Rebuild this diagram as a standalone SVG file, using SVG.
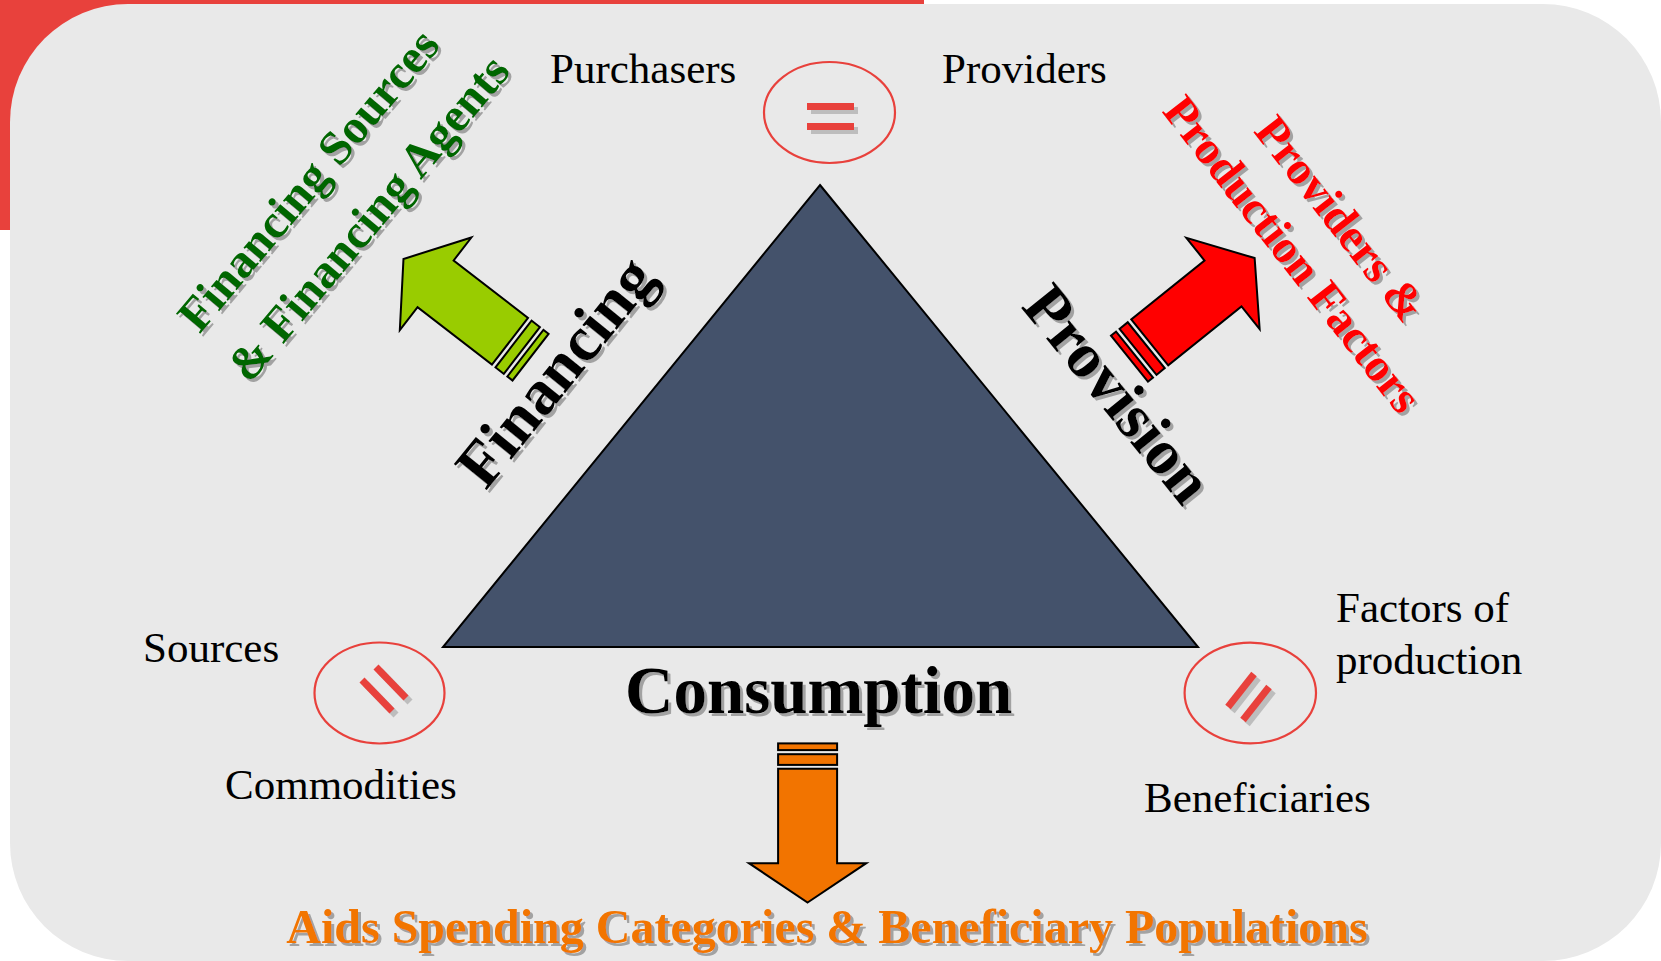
<svg xmlns="http://www.w3.org/2000/svg" width="1661" height="961" viewBox="0 0 1661 961">
<defs>
<style>
.lbl{font-family:"Liberation Serif","Times New Roman",serif;font-size:43px;fill:#000}
.big{font-family:"Liberation Serif","Times New Roman",serif;font-weight:bold;fill:#000}
.side{font-family:"Liberation Serif","Times New Roman",serif;font-weight:bold}
.ring{fill:none;stroke:#E8413C;stroke-width:2.2}
.bar{stroke:#E8413C;stroke-width:7;stroke-linecap:butt}
.barsh{stroke:#BDBDBD;stroke-width:7;stroke-linecap:butt}
.arr{stroke:#000;stroke-width:2;stroke-linejoin:miter}
</style>
<filter id="ts" x="-10%" y="-10%" width="130%" height="130%">
<feDropShadow dx="3" dy="3" stdDeviation="0.6" flood-color="#8a8a8a" flood-opacity="0.75"/>
</filter>
</defs>

<g id="background">
<rect x="0" y="0" width="924" height="230" fill="#E8413C"/>
<path d="M128,4 H1543 A118,118 0 0 1 1661,122 V843 A118,118 0 0 1 1543,961 H128 A118,118 0 0 1 10,843 V122 A118,118 0 0 1 128,4 Z" fill="#E9E9E9"/>
</g>

<g id="connectors">
<g id="arrow-financing" transform="translate(435.6,283.8) rotate(-142.3)">
<polygon class="arr" fill="#99CC00" points="40.6,0 0,-58.5 0,-29.5 -94,-29.5 -94,29.5 0,29.5 0,58.5"/>
<rect class="arr" fill="#99CC00" x="-109" y="-29.5" width="10.5" height="59"/>
<rect class="arr" fill="#99CC00" x="-120" y="-29.5" width="6.5" height="59"/>
</g>
<g id="arrow-provision" transform="translate(1223,283.5) rotate(-38.8)">
<polygon class="arr" fill="#FF0000" points="40.6,0 0,-58.5 0,-29.5 -94,-29.5 -94,29.5 0,29.5 0,58.5"/>
<rect class="arr" fill="#FF0000" x="-109" y="-29.5" width="10.5" height="59"/>
<rect class="arr" fill="#FF0000" x="-120" y="-29.5" width="6.5" height="59"/>
</g>
<g id="arrow-consumption" transform="translate(807.6,863.2) rotate(90)">
<polygon class="arr" fill="#F27400" points="39.3,0 0,-58.7 0,-29.5 -94.5,-29.5 -94.5,29.5 0,29.5 0,58.7"/>
<rect class="arr" fill="#F27400" x="-109" y="-29.5" width="10.7" height="59"/>
<rect class="arr" fill="#F27400" x="-119.8" y="-29.5" width="6.7" height="59"/>
</g>
</g>

<g id="triangle">
<polygon points="820,185 1198,647 443,647" fill="#44526B" stroke="#000" stroke-width="2"/>
</g>

<g id="node-top">
<ellipse class="ring" cx="829.5" cy="112.5" rx="65.5" ry="50.5"/>
<line class="barsh" x1="811" y1="110.5" x2="858" y2="110.5"/>
<line class="barsh" x1="811" y1="130.5" x2="858" y2="130.5"/>
<line class="bar" x1="807" y1="106.5" x2="854" y2="106.5"/>
<line class="bar" x1="807" y1="126.5" x2="854" y2="126.5"/>
<text class="lbl" x="550" y="83">Purchasers</text>
<text class="lbl" x="942" y="83">Providers</text>
</g>

<g id="node-left">
<ellipse class="ring" cx="379.5" cy="693" rx="65" ry="50.5"/>
<line class="barsh" x1="380" y1="671" x2="410" y2="702"/>
<line class="barsh" x1="366" y1="684" x2="396" y2="715"/>
<line class="bar" x1="376" y1="667" x2="406" y2="698"/>
<line class="bar" x1="362" y1="680" x2="392" y2="711"/>
<text class="lbl" x="143" y="662">Sources</text>
<text class="lbl" x="225" y="799">Commodities</text>
</g>

<g id="node-right">
<ellipse class="ring" cx="1250.3" cy="693" rx="65.7" ry="50.3"/>
<line class="barsh" x1="1258" y1="678" x2="1232" y2="711"/>
<line class="barsh" x1="1273" y1="691" x2="1247" y2="724"/>
<line class="bar" x1="1254" y1="674" x2="1228" y2="707"/>
<line class="bar" x1="1269" y1="687" x2="1243" y2="720"/>
<text class="lbl" x="1336" y="622">Factors of</text>
<text class="lbl" x="1336" y="674">production</text>
<text class="lbl" x="1144" y="812">Beneficiaries</text>
</g>

<g id="label-financing" filter="url(#ts)">
<text class="big" font-size="64" text-anchor="middle" x="561" y="390" transform="rotate(-51,561,376)">Financing</text>
</g>
<g id="label-provision" filter="url(#ts)">
<text class="big" font-size="64" text-anchor="middle" x="1118" y="415" transform="rotate(51,1118,394)">Provision</text>
</g>
<g id="label-consumption" filter="url(#ts)">
<text class="big" font-size="67" x="625" y="713">Consumption</text>
</g>

<g id="label-financing-sources" filter="url(#ts)">
<text class="side" font-size="48" fill="#006600" text-anchor="middle" x="312.5" y="194" transform="rotate(-50,312.5,183.5)">Financing Sources</text>
<text class="side" font-size="48" fill="#006600" text-anchor="middle" x="372.5" y="232" transform="rotate(-50,372.5,221.5)">&amp; Financing Agents</text>
</g>

<g id="label-providers" filter="url(#ts)">
<text class="side" font-size="47" fill="#FF0000" text-anchor="middle" x="1341" y="234.5" transform="rotate(52,1341,218.5)">Providers &amp;</text>
<text class="side" font-size="47" fill="#FF0000" text-anchor="middle" x="1293" y="270" transform="rotate(52,1293,254)">Production Factors</text>
</g>

<g id="label-aids" filter="url(#ts)">
<text class="side" fill="#F27400" font-size="48" text-anchor="middle" x="827" y="943">Aids Spending Categories &amp; Beneficiary Populations</text>
</g>
</svg>
